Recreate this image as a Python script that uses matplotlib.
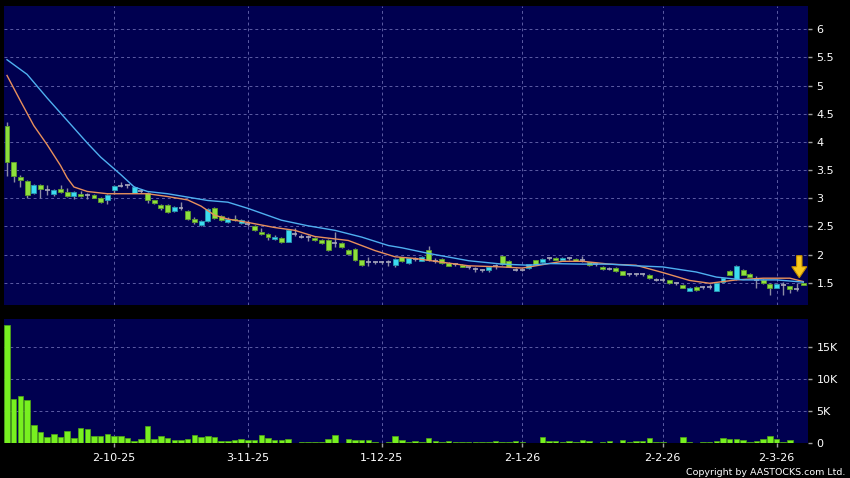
import matplotlib
matplotlib.use('Agg')
import matplotlib.pyplot as plt
import matplotlib.transforms as mtransforms
from matplotlib.patches import Polygon
import numpy as np
import pandas as pd

# trading days shown (HK exchange holidays removed)
hk_holidays = ['2025-10-01', '2025-10-07', '2025-10-29', '2025-12-25', '2025-12-26',
               '2026-01-01', '2026-02-17', '2026-02-18', '2026-02-19']
dates = pd.bdate_range('2025-09-09', '2026-03-06', freq='C', holidays=hk_holidays)

opens = [4.29, 3.64, 3.38, 3.31, 3.09, 3.24, 3.14, 3.08, 3.17, 3.11,
         3.04, 3.08, 3.05, 3.05, 3.00, 2.97, 3.14, 3.22, 3.23, 3.10,
         3.13, 3.10, 2.96, 2.88, 2.88, 2.78, 2.82, 2.78, 2.64, 2.53,
         2.59, 2.82, 2.68, 2.58, 2.64, 2.56, 2.54, 2.51, 2.40, 2.36,
         2.28, 2.30, 2.23, 2.36, 2.32, 2.31, 2.30, 2.26, 2.26, 2.20,
         2.21, 2.08, 2.10, 1.90, 1.87, 1.87, 1.87, 1.86, 1.81, 1.95,
         1.85, 1.92, 1.89, 2.08, 1.88, 1.92, 1.85, 1.83, 1.82, 1.77,
         1.74, 1.72, 1.73, 1.80, 1.98, 1.89, 1.73, 1.73, 1.76, 1.90,
         1.86, 1.94, 1.94, 1.91, 1.94, 1.92, 1.91, 1.86, 1.83, 1.78,
         1.75, 1.76, 1.70, 1.65, 1.65, 1.65, 1.64, 1.55, 1.55, 1.54,
         1.49, 1.46, 1.36, 1.43, 1.42, 1.42, 1.36, 1.51, 1.71, 1.56,
         1.72, 1.65, 1.55, 1.55, 1.48, 1.41, 1.46, 1.44, 1.39, 1.49]
highs = [4.35, 3.65, 3.42, 3.32, 3.25, 3.25, 3.24, 3.17, 3.24, 3.18,
         3.12, 3.13, 3.09, 3.08, 3.02, 3.08, 3.24, 3.28, 3.26, 3.21,
         3.17, 3.11, 2.97, 2.90, 2.89, 2.87, 2.94, 2.80, 2.66, 2.62,
         2.83, 2.84, 2.70, 2.66, 2.70, 2.63, 2.62, 2.53, 2.47, 2.38,
         2.34, 2.31, 2.45, 2.47, 2.36, 2.35, 2.31, 2.27, 2.27, 2.40,
         2.23, 2.10, 2.11, 1.91, 1.95, 1.89, 1.89, 1.91, 1.93, 1.96,
         1.94, 1.95, 1.97, 2.16, 1.93, 1.93, 1.86, 1.85, 1.83, 1.80,
         1.77, 1.75, 1.79, 1.83, 1.99, 1.90, 1.76, 1.75, 1.84, 1.91,
         1.93, 1.96, 1.96, 1.95, 1.96, 1.93, 1.97, 1.87, 1.85, 1.79,
         1.77, 1.77, 1.71, 1.68, 1.68, 1.68, 1.65, 1.58, 1.61, 1.55,
         1.52, 1.47, 1.42, 1.44, 1.44, 1.47, 1.50, 1.59, 1.73, 1.81,
         1.74, 1.67, 1.62, 1.56, 1.49, 1.49, 1.51, 1.45, 1.49, 1.50]
lows = [3.39, 3.29, 3.20, 3.01, 3.07, 3.01, 3.05, 3.04, 3.10, 3.03,
        2.99, 3.03, 2.99, 3.00, 2.92, 2.89, 3.08, 3.20, 3.18, 3.09,
        3.10, 2.92, 2.89, 2.80, 2.74, 2.76, 2.80, 2.62, 2.55, 2.50,
        2.57, 2.64, 2.59, 2.56, 2.60, 2.54, 2.50, 2.42, 2.35, 2.26,
        2.26, 2.21, 2.22, 2.33, 2.29, 2.24, 2.24, 2.18, 2.07, 2.13,
        2.12, 2.00, 1.89, 1.80, 1.80, 1.84, 1.84, 1.80, 1.78, 1.87,
        1.83, 1.88, 1.88, 1.89, 1.85, 1.84, 1.79, 1.80, 1.77, 1.74,
        1.69, 1.69, 1.69, 1.74, 1.82, 1.77, 1.70, 1.70, 1.74, 1.81,
        1.85, 1.91, 1.90, 1.90, 1.91, 1.88, 1.87, 1.80, 1.80, 1.73,
        1.72, 1.69, 1.63, 1.62, 1.62, 1.62, 1.57, 1.53, 1.52, 1.48,
        1.46, 1.40, 1.35, 1.36, 1.39, 1.39, 1.35, 1.50, 1.63, 1.55,
        1.63, 1.60, 1.40, 1.48, 1.29, 1.40, 1.28, 1.31, 1.35, 1.46]
closes = [3.64, 3.40, 3.32, 3.05, 3.24, 3.17, 3.14, 3.15, 3.11, 3.04,
          3.11, 3.04, 3.05, 3.01, 2.93, 3.06, 3.21, 3.22, 3.23, 3.20,
          3.13, 2.96, 2.91, 2.82, 2.76, 2.85, 2.82, 2.64, 2.57, 2.60,
          2.81, 2.65, 2.61, 2.64, 2.62, 2.61, 2.54, 2.44, 2.37, 2.31,
          2.32, 2.23, 2.43, 2.36, 2.32, 2.31, 2.26, 2.20, 2.08, 2.20,
          2.13, 2.01, 1.90, 1.81, 1.87, 1.87, 1.87, 1.86, 1.92, 1.88,
          1.93, 1.92, 1.96, 1.90, 1.88, 1.85, 1.80, 1.83, 1.78, 1.77,
          1.74, 1.72, 1.78, 1.80, 1.83, 1.78, 1.73, 1.73, 1.83, 1.82,
          1.92, 1.94, 1.91, 1.94, 1.94, 1.89, 1.91, 1.81, 1.83, 1.74,
          1.75, 1.70, 1.64, 1.65, 1.65, 1.65, 1.58, 1.55, 1.55, 1.49,
          1.49, 1.41, 1.41, 1.37, 1.42, 1.42, 1.49, 1.58, 1.64, 1.80,
          1.64, 1.61, 1.55, 1.49, 1.41, 1.48, 1.46, 1.38, 1.39, 1.46]
# volume in thousands of shares
volumes = [18.4, 6.9, 7.4, 6.8, 2.76, 1.77, 0.94, 1.35, 0.94, 1.87,
           0.78, 2.34, 2.13, 1.09, 1.09, 1.35, 1.09, 1.04, 0.78, 0.31,
           0.68, 2.65, 0.62, 1.09, 0.78, 0.52, 0.47, 0.68, 1.30, 0.99,
           1.04, 0.88, 0.31, 0.31, 0.47, 0.62, 0.47, 0.47, 1.25, 0.73,
           0.47, 0.42, 0.62, 0.05, 0.10, 0.15, 0.10, 0.15, 0.57, 1.30,
           0.05, 0.57, 0.42, 0.42, 0.47, 0.20, 0.05, 0.15, 1.14, 0.47,
           0.15, 0.26, 0.20, 0.73, 0.26, 0.10, 0.26, 0.20, 0.15, 0.15,
           0.10, 0.10, 0.15, 0.26, 0.15, 0.20, 0.26, 0.15, 0.05, 0.03,
           0.99, 0.26, 0.26, 0.10, 0.26, 0.10, 0.42, 0.31, 0.05, 0.20,
           0.31, 0.05, 0.42, 0.15, 0.26, 0.26, 0.73, 0.15, 0.10, 0.05,
           0.03, 0.88, 0.20, 0.05, 0.15, 0.20, 0.26, 0.78, 0.57, 0.57,
           0.47, 0.15, 0.31, 0.62, 1.09, 0.68, 0.10, 0.42, 0.05, 0.02]

# moving averages (candle index, price)
ma_fast_idx = [0, 2, 4, 6, 8, 9, 10, 12, 15, 18, 21, 24, 27, 29, 31, 33, 36, 40, 43, 46,
               51, 55, 58, 61, 64, 69, 74, 77, 80, 83, 86, 90, 94, 98, 102, 105, 109, 113, 117, 119]
ma_fast = [5.18, 4.73, 4.29, 3.95, 3.58, 3.36, 3.20, 3.12, 3.08, 3.08,
           3.08, 3.03, 2.97, 2.86, 2.70, 2.63, 2.57, 2.48, 2.43, 2.32,
           2.25, 2.07, 1.96, 1.93, 1.88, 1.80, 1.78, 1.76, 1.82, 1.88,
           1.88, 1.83, 1.81, 1.68, 1.54, 1.49, 1.55, 1.58, 1.58, 1.52]
ma_slow_idx = [0, 3, 6, 9, 12, 14, 17, 19, 21, 24, 27, 30, 33, 36, 41, 45, 49, 53, 57, 59,
               63, 69, 74, 78, 81, 86, 90, 94, 98, 103, 106, 110, 115, 119]
ma_slow = [5.46, 5.20, 4.78, 4.38, 3.98, 3.73, 3.42, 3.20, 3.12, 3.08,
           3.02, 2.96, 2.93, 2.82, 2.61, 2.51, 2.43, 2.31, 2.16, 2.12,
           2.02, 1.89, 1.83, 1.81, 1.84, 1.83, 1.83, 1.80, 1.78, 1.69,
           1.60, 1.55, 1.55, 1.51]

price_ticks = [1.5, 2, 2.5, 3, 3.5, 4, 4.5, 5, 5.5, 6]
vol_ticks = [0, 5, 10, 15]
vol_labels = ['0', '5K', '10K', '15K']

NAVY = '#000050'
GRID = '#5c5ca4'

o = np.array(opens)
h = np.array(highs)
l = np.array(lows)
c = np.array(closes)
x = np.arange(len(c))
up = c > o
down = c < o
flat = c == o

# first trading day of each month -> date ticks
months = dates.to_period('M')
tick_pos = [i for i in range(1, len(dates)) if months[i] != months[i - 1]]
tick_lab = ['%d-%d-%s' % (dates[i].day, dates[i].month, dates[i].strftime('%y')) for i in tick_pos]

fig = plt.figure(figsize=(8.5, 4.78), dpi=100, facecolor='black')
ax = fig.add_axes([4 / 850, 173 / 478, 804 / 850, 299 / 478])
axv = fig.add_axes([4 / 850, 35 / 478, 804 / 850, 124 / 478], sharex=ax)

for a in (ax, axv):
    a.set_facecolor(NAVY)
    for s in a.spines.values():
        s.set_visible(False)
    a.grid(True, color=GRID, ls=(0, (3, 3)), lw=0.7)
    a.set_axisbelow(True)
    a.yaxis.tick_right()
    a.tick_params(axis='y', colors='#a0a0a0', labelcolor='white', length=3, width=1,
                  pad=3, labelsize=8)
    a.set_xticks(tick_pos)

# candles
ax.vlines(x, l, h, color='#8c8ca4', lw=1, zorder=2)
ax.bar(x[down], (o - c)[down], bottom=c[down], width=0.74, color='#8ee03c',
       edgecolor='#5f9e2a', lw=0.6, zorder=3)
ax.bar(x[up], (c - o)[up], bottom=o[up], width=0.74, color='#3cdcf0',
       edgecolor='#2898b0', lw=0.6, zorder=3)
ax.hlines(c[flat], x[flat] - 0.37, x[flat] + 0.37, color='#a8a8bc', lw=1.2, zorder=3)

ax.plot(ma_fast_idx, ma_fast, color='#e8905c', lw=1, zorder=4)
ax.plot(ma_slow_idx, ma_slow, color='#4fb0f0', lw=1, zorder=4)

ax.set_ylim(1.104, 6.414)
ax.set_yticks(price_ticks)
ax.set_yticklabels(['%g' % v for v in price_ticks])
ax.tick_params(axis='x', length=0, labelbottom=False)

# yellow arrow over the last candle
tip_x = x[-1] - 0.6
tip_y = h[-1]
arrow_px = [(0, 5), (-7.5, 16), (-2.7, 16), (-2.7, 27), (2.7, 27), (2.7, 16), (7.5, 16)]
arrow_in = [(px / 100, py / 100) for px, py in arrow_px]
trans = fig.dpi_scale_trans + mtransforms.ScaledTranslation(tip_x, tip_y, ax.transData)
ax.add_patch(Polygon(arrow_in, closed=True, transform=trans, facecolor='#f8c81c',
                     edgecolor='#c08a00', lw=0.8, zorder=6))

# volume
axv.bar(x, volumes, width=0.82, color='#78f020', edgecolor='#4fa814', lw=0.5, zorder=3)
axv.set_ylim(0, 19.4)
axv.set_yticks(vol_ticks)
axv.set_yticklabels(vol_labels)
axv.set_xticklabels(tick_lab)
axv.tick_params(axis='x', colors='#a0a0a0', labelcolor='white', length=3, width=1,
                pad=4, labelsize=8)
axv.set_xlim(-0.45, 119.7)

fig.text(0.995, 0.003, 'Copyright by AASTOCKS.com Ltd.', ha='right', va='bottom',
         color='white', fontsize=6.8)

fig.savefig('out.png', dpi=100, facecolor='black')
